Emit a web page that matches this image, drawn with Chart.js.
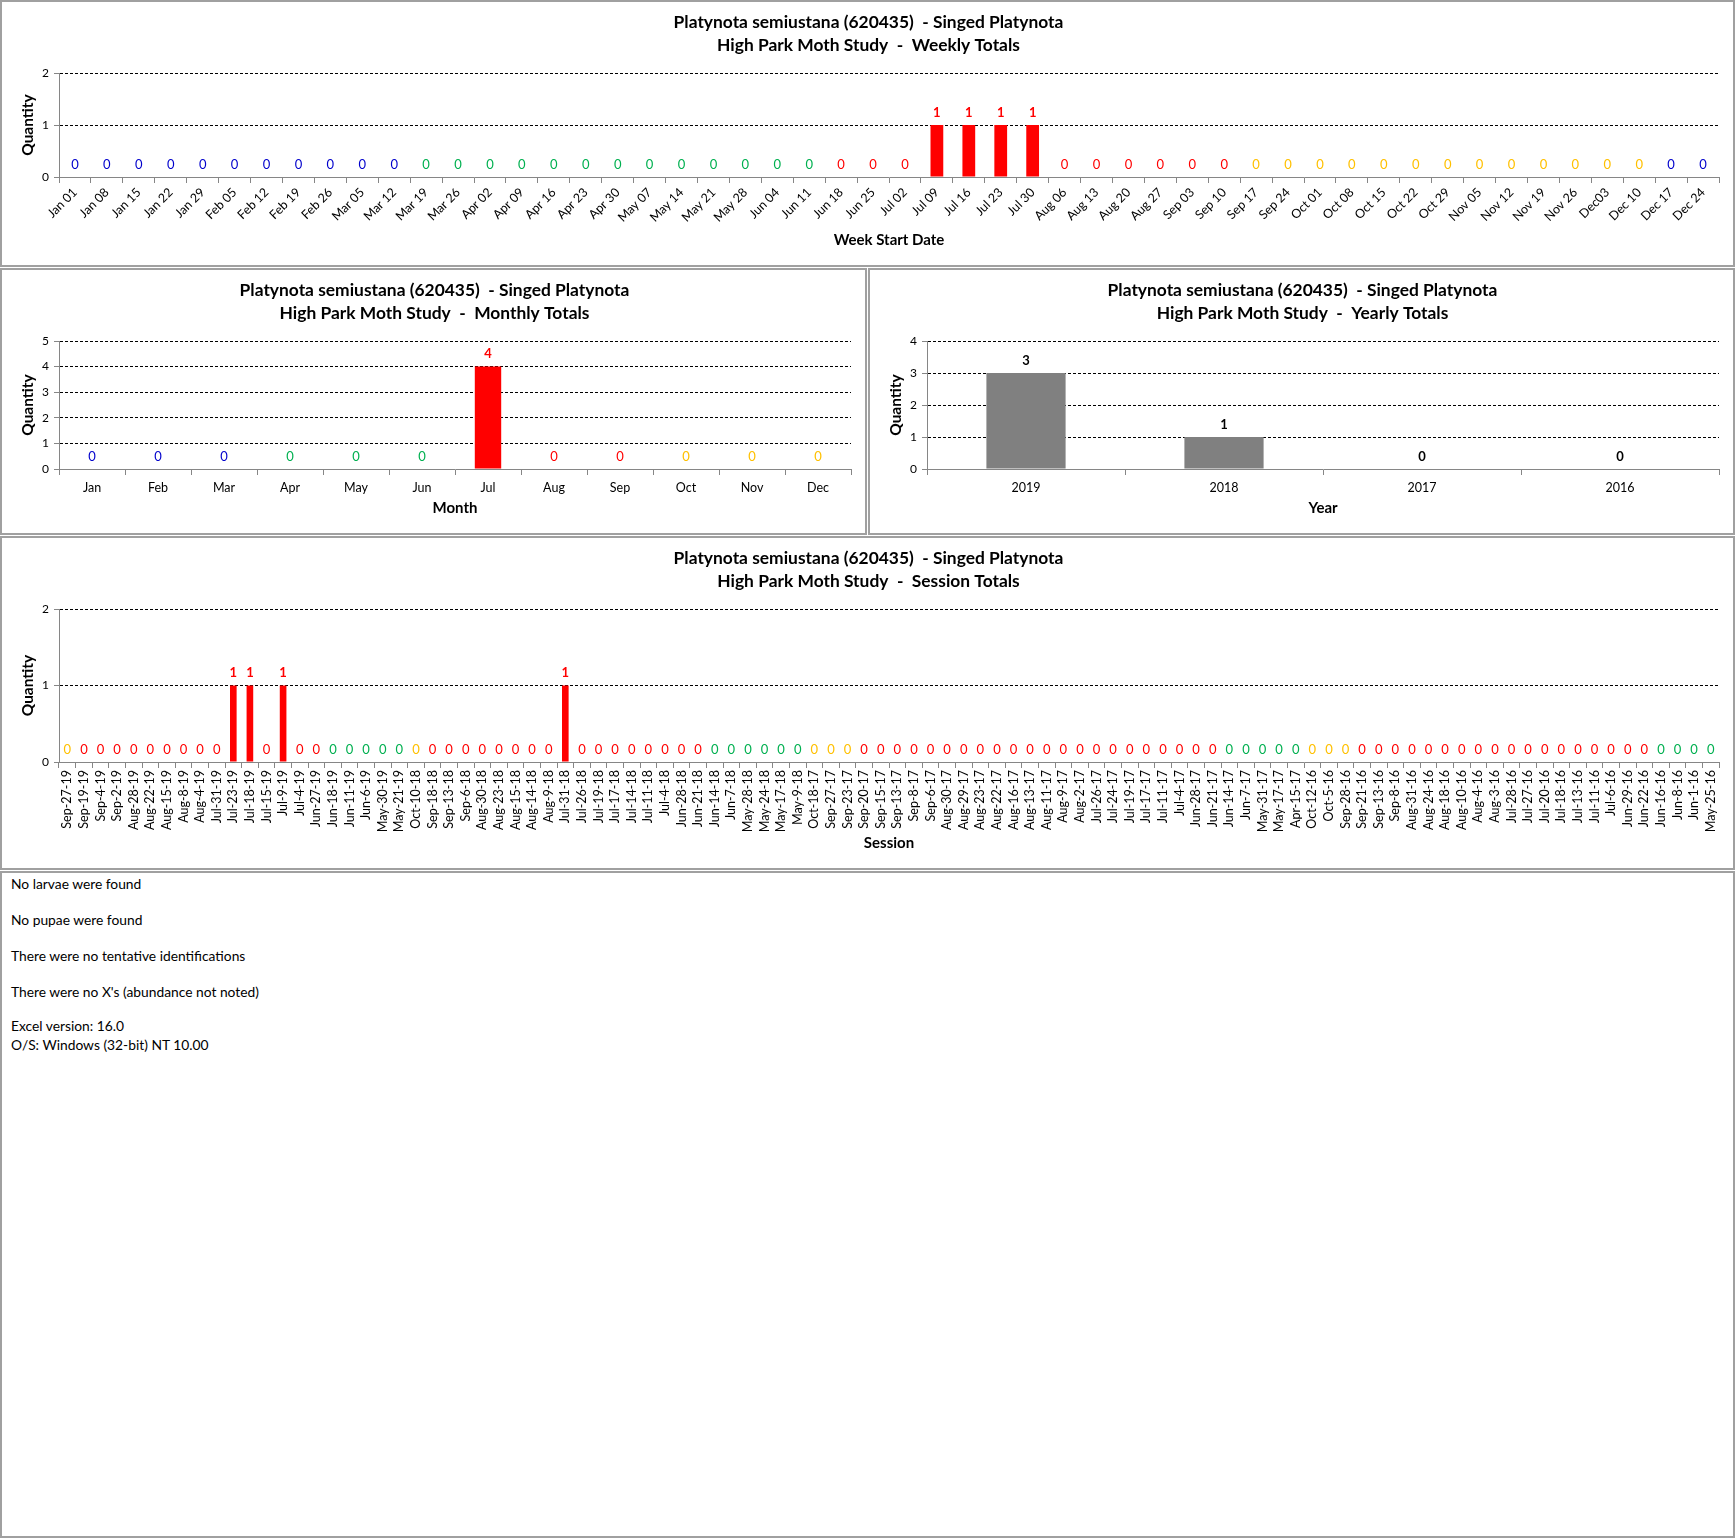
<!DOCTYPE html>
<html>
<head>
<meta charset="utf-8">
<title>Platynota semiustana - High Park Moth Study</title>
<script src="https://cdn.jsdelivr.net/npm/chart.js@4.4.0/dist/chart.umd.min.js"></script>
<style>
  body { margin: 0; background: #fff; width: 1736px; height: 1538px; position: relative; font-family: Lato, "Open Sans", sans-serif; }
  .panel { position: absolute; box-sizing: border-box; border: 2px solid #a0a0a0; background: #fff; }
  .panel canvas { display: block; }
  #notes { padding: 1px 0 0 9px; font-size: 13.8px; color: #000; }
  #notes div { line-height: 19px; }
  #notes .gap { margin-bottom: 17px; }
  #notes .gap2 { margin-bottom: 15px; }
</style>
</head>
<body>

<div class="panel" style="left:0; top:0; width:1735px; height:267px"><canvas id="weekly" width="1731" height="263"></canvas></div>
<div class="panel" style="left:0; top:268px; width:867px; height:267px"><canvas id="monthly" width="863" height="263"></canvas></div>
<div class="panel" style="left:868px; top:268px; width:867px; height:267px"><canvas id="yearly" width="863" height="263"></canvas></div>
<div class="panel" style="left:0; top:536px; width:1735px; height:334px"><canvas id="session" width="1731" height="330"></canvas></div>
<div class="panel" id="notes" style="left:0; top:871px; width:1735px; height:667px">
  <div class="gap">No larvae were found</div>
  <div class="gap">No pupae were found</div>
  <div class="gap">There were no tentative identifications</div>
  <div class="gap2">There were no X's (abundance not noted)</div>
  <div>Excel version: 16.0</div>
  <div>O/S: Windows (32-bit) NT 10.00</div>
</div>

<script>
/* chart data */
let titleLine1 = 'Platynota semiustana (620435)  - Singed Platynota'

let weekLabels = ['Jan 01', 'Jan 08', 'Jan 15', 'Jan 22', 'Jan 29', 'Feb 05', 'Feb 12', 'Feb 19', 'Feb 26',
    'Mar 05', 'Mar 12', 'Mar 19', 'Mar 26', 'Apr 02', 'Apr 09', 'Apr 16', 'Apr 23', 'Apr 30', 'May 07',
    'May 14', 'May 21', 'May 28', 'Jun 04', 'Jun 11', 'Jun 18', 'Jun 25', 'Jul 02', 'Jul 09', 'Jul 16',
    'Jul 23', 'Jul 30', 'Aug 06', 'Aug 13', 'Aug 20', 'Aug 27', 'Sep 03', 'Sep 10', 'Sep 17', 'Sep 24',
    'Oct 01', 'Oct 08', 'Oct 15', 'Oct 22', 'Oct 29', 'Nov 05', 'Nov 12', 'Nov 19', 'Nov 26', 'Dec03',
    'Dec 10', 'Dec 17', 'Dec 24']
let weekValues = [0, 0, 0, 0, 0, 0, 0, 0, 0, 0, 0, 0, 0, 0, 0, 0, 0, 0, 0, 0, 0, 0, 0, 0, 0, 0, 0,
    1, 1, 1, 1, 0, 0, 0, 0, 0, 0, 0, 0, 0, 0, 0, 0, 0, 0, 0, 0, 0, 0, 0, 0, 0]

let monthLabels = ['Jan', 'Feb', 'Mar', 'Apr', 'May', 'Jun', 'Jul', 'Aug', 'Sep', 'Oct', 'Nov', 'Dec']
let monthValues = [0, 0, 0, 0, 0, 0, 4, 0, 0, 0, 0, 0]

let yearLabels = ['2019', '2018', '2017', '2016']
let yearValues = [3, 1, 0, 0]

let sessionLabels = ['Sep-27-19', 'Sep-19-19', 'Sep-4-19', 'Sep-2-19', 'Aug-28-19', 'Aug-22-19', 'Aug-15-19',
    'Aug-8-19', 'Aug-4-19', 'Jul-31-19', 'Jul-23-19', 'Jul-18-19', 'Jul-15-19', 'Jul-9-19', 'Jul-4-19',
    'Jun-27-19', 'Jun-18-19', 'Jun-11-19', 'Jun-6-19', 'May-30-19', 'May-21-19', 'Oct-10-18', 'Sep-18-18',
    'Sep-13-18', 'Sep-6-18', 'Aug-30-18', 'Aug-23-18', 'Aug-15-18', 'Aug-14-18', 'Aug-9-18', 'Jul-31-18',
    'Jul-26-18', 'Jul-19-18', 'Jul-17-18', 'Jul-14-18', 'Jul-11-18', 'Jul-4-18', 'Jun-28-18', 'Jun-21-18',
    'Jun-14-18', 'Jun-7-18', 'May-28-18', 'May-24-18', 'May-17-18', 'May-9-18', 'Oct-18-17', 'Sep-27-17',
    'Sep-23-17', 'Sep-20-17', 'Sep-15-17', 'Sep-13-17', 'Sep-8-17', 'Sep-6-17', 'Aug-30-17', 'Aug-29-17',
    'Aug-23-17', 'Aug-22-17', 'Aug-16-17', 'Aug-13-17', 'Aug-11-17', 'Aug-9-17', 'Aug-2-17', 'Jul-26-17',
    'Jul-24-17', 'Jul-19-17', 'Jul-17-17', 'Jul-11-17', 'Jul-4-17', 'Jun-28-17', 'Jun-21-17', 'Jun-14-17',
    'Jun-7-17', 'May-31-17', 'May-17-17', 'Apr-15-17', 'Oct-12-16', 'Oct-5-16', 'Sep-28-16', 'Sep-21-16',
    'Sep-13-16', 'Sep-8-16', 'Aug-31-16', 'Aug-24-16', 'Aug-18-16', 'Aug-10-16', 'Aug-4-16', 'Aug-3-16',
    'Jul-28-16', 'Jul-27-16', 'Jul-20-16', 'Jul-18-16', 'Jul-13-16', 'Jul-11-16', 'Jul-6-16', 'Jun-29-16',
    'Jun-22-16', 'Jun-16-16', 'Jun-8-16', 'Jun-1-16', 'May-25-16']
let sessionValues = [0, 0, 0, 0, 0, 0, 0, 0, 0, 0, 1, 1, 0, 1, 0, 0, 0, 0, 0, 0,
    0, 0, 0, 0, 0, 0, 0, 0, 0, 0, 1, 0, 0, 0, 0, 0, 0, 0, 0, 0,
    0, 0, 0, 0, 0, 0, 0, 0, 0, 0, 0, 0, 0, 0, 0, 0, 0, 0, 0, 0,
    0, 0, 0, 0, 0, 0, 0, 0, 0, 0, 0, 0, 0, 0, 0, 0, 0, 0, 0, 0,
    0, 0, 0, 0, 0, 0, 0, 0, 0, 0, 0, 0, 0, 0, 0, 0, 0, 0, 0, 0]

/* styles */
const FONT = 'Lato, "Open Sans", sans-serif'
const AXIS = '#868686'
const RED = '#ff0000'
const BLUE = '#0000cc'
const GREEN = '#00b050'
const YELLOW = '#ffc000'
const GREY = '#808080'

// label colour follows the season the date falls in
function seasonColor(month, day) {  // month 0-11
    let md = (month + 1) * 100 + day
    if (md >= 1221 || md < 320) return BLUE
    if (md < 621) return GREEN
    if (md < 922) return RED
    return YELLOW
}

let weekColors = weekLabels.map(function(l) {
    let end = new Date(2018, monthLabels.indexOf(l.slice(0, 3)), parseInt(l.slice(3)) + 6)  // last day of the week
    return seasonColor(end.getMonth(), end.getDate())
})
let monthColors = monthLabels.map(function(l, i) { return seasonColor(i, 15) })
let yearColors = yearLabels.map(function() { return '#000' })
let sessionColors = sessionLabels.map(function(l) {
    let parts = l.split('-')
    return seasonColor(monthLabels.indexOf(parts[0]), parseInt(parts[1]))
})

// draws the value above every bar (zero bars too)
const valueLabels = {
    id: 'valueLabels',
    afterDatasetsDraw(chart, args, opts) {
        let ctx = chart.ctx
        let values = chart.data.datasets[0].data
        ctx.save()
        ctx.textAlign = 'center'
        ctx.textBaseline = 'middle'
        chart.getDatasetMeta(0).data.forEach(function(bar, i) {
            let bold = opts.allBold || values[i] > 0
            ctx.font = (bold ? 'bold ' : '') + '13px ' + FONT
            ctx.fillStyle = opts.colors[i]
            ctx.fillText(String(values[i]), bar.x, bar.y - 12.5)
        })
        ctx.restore()
    }
}

Chart.defaults.font.family = FONT
Chart.defaults.color = '#000'

function makeChart(id, o) {
    return new Chart(document.getElementById(id), {
        type: 'bar',
        data: {
            labels: o.labels,
            datasets: [{ data: o.values, backgroundColor: o.barColor, borderWidth: 0, barPercentage: 0.4, categoryPercentage: 1 }]
        },
        options: {
            animation: false,
            responsive: false,
            devicePixelRatio: 1,
            layout: { padding: { left: 16, right: 14, top: 0, bottom: 0 } },
            plugins: {
                legend: { display: false },
                tooltip: { enabled: false },
                title: {
                    display: true,
                    text: [titleLine1, o.title],
                    color: '#000',
                    font: { size: 17.4, weight: 'bold', lineHeight: 23 / 17.4 },
                    padding: { top: 9, bottom: 16 }
                },
                valueLabels: { colors: o.labelColors, allBold: o.allBold }
            },
            scales: {
                x: {
                    grid: { drawOnChartArea: false, drawTicks: true, tickLength: 6, tickColor: AXIS, offset: true },
                    border: { color: AXIS },
                    ticks: { autoSkip: false, minRotation: o.rotation, maxRotation: o.rotation, color: '#000', font: { size: 12.5 }, padding: o.tickPad },
                    title: { display: true, text: o.xTitle, color: '#000', font: { size: 15, weight: 'bold', lineHeight: 1.2 }, padding: { top: 0, bottom: 16 } },
                    afterFit: function(scale) { scale.height = o.xHeight }
                },
                y: {
                    min: 0,
                    max: o.yMax,
                    ticks: { stepSize: 1, color: '#000', font: { size: 12 }, padding: 5 },
                    grid: {
                        color: function(c) { return c.tick.value === 0 ? 'rgba(0,0,0,0)' : '#000' },
                        tickColor: AXIS,
                        tickLength: 5
                    },
                    border: { color: AXIS, dash: [3, 2] },
                    title: { display: true, text: 'Quantity', color: '#000', font: { size: 15.5, weight: 'bold', lineHeight: 1.2 }, padding: { top: 1, bottom: 0 } },
                    afterFit: function(scale) { scale.width = 41 }
                }
            }
        },
        plugins: [valueLabels]
    })
}

makeChart('weekly', {
    labels: weekLabels, values: weekValues, barColor: RED, labelColors: weekColors,
    title: 'High Park Moth Study  -  Weekly Totals', xTitle: 'Week Start Date',
    yMax: 2, rotation: 45, tickPad: 2, xHeight: 88
})

makeChart('monthly', {
    labels: monthLabels, values: monthValues, barColor: RED, labelColors: monthColors,
    title: 'High Park Moth Study  -  Monthly Totals', xTitle: 'Month',
    yMax: 5, rotation: 0, tickPad: 5, xHeight: 64
})

makeChart('yearly', {
    labels: yearLabels, values: yearValues, barColor: GREY, labelColors: yearColors, allBold: true,
    title: 'High Park Moth Study  -  Yearly Totals', xTitle: 'Year',
    yMax: 4, rotation: 0, tickPad: 5, xHeight: 64
})

makeChart('session', {
    labels: sessionLabels, values: sessionValues, barColor: RED, labelColors: sessionColors,
    title: 'High Park Moth Study  -  Session Totals', xTitle: 'Session',
    yMax: 2, rotation: 90, tickPad: 2, xHeight: 106
})
</script>
</body>
</html>
